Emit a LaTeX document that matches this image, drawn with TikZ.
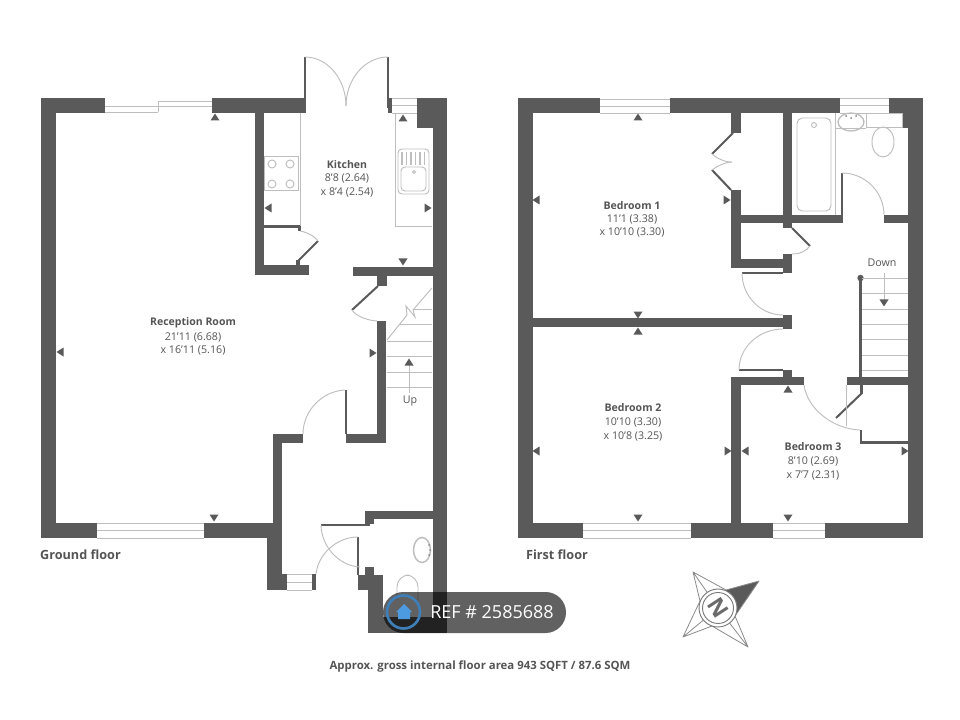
\documentclass[tikz,border=0pt]{standalone}
\usepackage{fontspec}
\setmainfont{Open Sans}
\usetikzlibrary{calc}
\definecolor{wallc}{HTML}{5A5A5A}
\definecolor{thinc}{HTML}{BEBEBE}
\definecolor{txtc}{HTML}{555555}
\definecolor{ringc}{HTML}{3F7FB8}
\definecolor{housec}{HTML}{4C9BE0}
\tikzset{
  thinl/.style={draw=thinc,line width=0.7pt},
  doorl/.style={draw=wallc,line width=1.5pt},
  rl/.style={font=\fontsize{8}{10}\selectfont,text=txtc,inner sep=0pt},
  rt/.style={font=\fontsize{7.9}{10}\selectfont\bfseries,text=txtc,inner sep=0pt},
  ft/.style={font=\fontsize{9.5}{11}\selectfont\bfseries,text=txtc,inner sep=0pt},
}
\newcommand{\wl}[4]{\fill[wallc] (#1,#2) rectangle (#3,#4);}
\newcommand{\qa}[6]{\draw[thinl] (#1,#2) .. controls ($(#1,#2)!.55!(#3,#4)$) and ($(#5,#6)!.55!(#3,#4)$) .. (#5,#6);}
\newcommand{\tu}[2]{\fill[wallc] (#1-4.5,#2+3.5) -- (#1+4.5,#2+3.5) -- (#1,#2-3.5) -- cycle;}
\newcommand{\td}[2]{\fill[wallc] (#1-4.5,#2-3.5) -- (#1+4.5,#2-3.5) -- (#1,#2+3.5) -- cycle;}
\newcommand{\tl}[2]{\fill[wallc] (#1+3.5,#2-4.5) -- (#1+3.5,#2+4.5) -- (#1-3.5,#2) -- cycle;}
\newcommand{\tr}[2]{\fill[wallc] (#1-3.5,#2-4.5) -- (#1-3.5,#2+4.5) -- (#1+3.5,#2) -- cycle;}
\newcommand{\winh}[4]{\draw[thinl] (#1,#2) -- (#3,#2) (#1,#4) -- (#3,#4) (#1,{(#2+#4)/2}) -- (#3,{(#2+#4)/2});}
\begin{document}
\begin{tikzpicture}[x=0.75pt,y=-0.75pt]
\useasboundingbox (0,0) rectangle (960,720);
\fill[white] (0,0) rectangle (960,720);
% ===== Ground floor walls =====
\wl{41}{98}{56}{538}
\wl{41}{98}{105}{113}
\wl{212}{98}{304}{113}
\wl{41}{523}{97}{538}
\wl{204}{523}{282}{538}
% sliding door
\draw[thinl] (105,106) -- (158,106) (105,112) -- (158,112) (158,112) -- (158,101) (158,101) -- (212,101) (158,106) -- (212,106);
\winh{97}{523}{204}{538}
\wl{255}{113}{264}{275}
\wl{255}{265}{309}{275}
\wl{264}{225}{300}{228}
\wl{298}{226}{301}{231}
\wl{296}{260}{300}{265}
\wl{388}{98}{392}{113}
\winh{392}{98}{417}{113}
\wl{417}{98}{447}{128}
\wl{433}{98}{447}{633}
\wl{353}{267}{433}{276}
\wl{377}{276}{387}{286}
\wl{377}{321}{386}{443}
\wl{346}{434}{386}{443}
\wl{345}{390}{347}{434}
\wl{273}{434}{303}{443}
\wl{273}{434}{282}{590}
\wl{267}{538}{282}{590}
\wl{267}{574}{287}{590}
\winh{287}{574}{312}{590}
\wl{312}{574}{316}{590}
\wl{358}{575}{383}{590}
\wl{365}{567}{374}{575}
\wl{368}{590}{383}{633}
\wl{368}{617}{447}{633}
\wl{365}{511}{433}{519}
\wl{365}{511}{374}{524}
\wl{321}{524}{370}{526}
\wl{357}{537}{359}{575}
% French doors
\wl{303.5}{57}{305.5}{113}
\wl{387}{57}{389}{108}
\qa{305}{57}{346}{57}{346}{106}
\qa{388}{57}{346}{57}{346}{106}
% door leaves and swings, ground floor
\draw[doorl] (298,261) -- (318,241);
\qa{318}{241}{313}{233}{300}{231}
\draw[doorl] (378,286) -- (352,310);
\qa{352}{310}{358}{320}{377}{321}
\qa{345}{390}{303}{392}{303}{434}
\qa{316}{574}{320}{537}{358}{537}
\qa{321}{525}{322}{565}{360}{567}
% Kitchen fittings
\draw[thinl] (300,113) -- (300,226);
\draw[thinl] (395,113) -- (395,226) -- (432,226);
\draw[thinl] (264,156) rectangle (298,190);
\draw[thinl] (272,164) circle[radius=4] (290,164) circle[radius=4] (272,184) circle[radius=4] (290,184) circle[radius=4];
\draw[thinl,rounded corners=3] (398,149) rectangle (429,194);
\draw[thinl,rounded corners=3] (401,167) rectangle (426,191);
\foreach \x in {402,406.5,411,415.5,420,424.5} \draw[thinl,line width=1.1pt] (\x,152) -- (\x,165);
\draw[thinl] (414,172) circle[radius=1.5];
% Stairs up
\draw[thinl] (414,309) -- (432,309) (400,324) -- (432,324) (387,341) -- (432,341) (387,356) -- (432,356) (387,372) -- (432,372) (387,387) -- (432,387);
\draw[thinl] (432,288) -- (413,310) -- (415,317) -- (406,306) -- (407,315) -- (387,340);
\draw[thinl] (409,365) -- (409,393);
\tu{409}{362}
\node[rl,font=\fontsize{8}{10}\selectfont] (up) at (410,401) {Up};
% WC fittings
\draw[thinl,line width=1.1pt] (422,550) ellipse[x radius=8.5,y radius=12.5];
\fill[thinc!70!black] (429,545) circle[radius=1] (430,550) circle[radius=1] (429,555) circle[radius=1];
\draw[thinl,rounded corners=9] (397,600) -- (397,575) -- (418,575) -- (418,600);
% Ground markers
\tu{215}{117} \td{214}{518} \tl{60}{352} \tr{373}{353}
\tu{403}{118} \tl{268}{208} \tr{428}{208} \td{403}{262}
% ===== First floor walls =====
\wl{518}{98}{533}{538}
\wl{518}{98}{600}{113}
\winh{600}{99}{670}{113}
\wl{670}{98}{840}{113}
\winh{840}{98}{889}{113}
\wl{889}{98}{923}{113}
\wl{902}{113}{923}{128}
\wl{908}{98}{923}{538}
\wl{518}{523}{583}{538}
\winh{583}{523}{691}{538}
\wl{691}{523}{773}{538}
\winh{773}{523}{825}{538}
\wl{825}{523}{923}{538}
\wl{731}{113}{741}{133}
\wl{731}{190}{741}{268}
\wl{731}{215}{842}{223}
\wl{783}{113}{792}{228}
\wl{731}{259}{783}{268}
\wl{783}{254}{792}{273}
\wl{841}{173}{843}{223}
\wl{884}{215}{908}{223}
\wl{742}{272}{783}{274}
\wl{533}{318}{783}{327}
\wl{783}{315}{792}{329}
\wl{739}{369}{783}{371}
\wl{731}{377}{804}{385}
\wl{783}{370}{792}{377}
\wl{731}{377}{741}{523}
\wl{847}{377}{908}{385}
\wl{859}{278}{862}{377}
\wl{860}{385}{863}{394}
\wl{860}{430}{862}{444}
\wl{860}{441}{908}{444}
\fill[wallc] (860.5,278) circle[radius=3.2];
% first floor doors
\draw[doorl] (733,133) -- (712,154);
\draw[doorl] (712,170) -- (731,190);
\qa{712}{154}{722}{163}{732}{162}
\qa{712}{170}{722}{162}{732}{162}
\draw[doorl] (792,228) -- (810,246);
\qa{810}{246}{804}{255}{792}{254}
\qa{842}{173}{884}{173}{884}{215}
\qa{742}{273}{742}{315}{783}{315}
\qa{783}{329}{739}{329}{739}{370}
\qa{804}{385}{810}{428}{860}{430}
\draw[doorl] (862,393) -- (836,418);
\draw[thinl,line width=1pt] (846.5,385) -- (846.5,426);
% Bathroom
\draw[thinl] (835,113) -- (835,215);
\draw[thinl,rounded corners=4] (797,118) rectangle (831,211);
\draw[thinl] (814,125) circle[radius=2.5];
\draw[thinl,line width=1pt] (851,122) ellipse[x radius=13,y radius=9];
\fill[thinc!70!black] (846,116) circle[radius=1] (851,118) circle[radius=1] (856,116) circle[radius=1];
\draw[thinl] (866,113) rectangle (902,127);
\draw[thinl] (835,128) -- (866,128);
\draw[thinl] (883,142) ellipse[x radius=11,y radius=15];
% Stairs down
\foreach \y in {278,293,309,324,339,355,370} \draw[thinl] (862,\y) -- (908,\y);
\draw[thinl] (884,273) -- (884,300);
\td{884}{303}
\node[rl,font=\fontsize{8}{10}\selectfont] (down) at (882,263) {Down};
% First markers
\tu{638}{117} \tl{536}{200} \tr{727}{200} \td{638}{315} \tu{638}{331}
\tl{536}{451} \tr{728}{451} \td{638}{518}
\tl{745}{451} \tr{905}{451} \td{788}{518} \tu{788}{389}
% ===== Labels =====
\node[rt] (rr1) at (193,323) {Reception Room};
\node[rl] (rr2) at (193,337) {21'11 (6.68)};
\node[rl] (rr3) at (193,350) {x 16'11 (5.16)};
\node[rt] (kt1) at (347,165) {Kitchen};
\node[rl] (kt2) at (347,178) {8'8 (2.64)};
\node[rl] (kt3) at (347,192) {x 8'4 (2.54)};
\node[rt] (b11) at (632,206) {Bedroom 1};
\node[rl] (b12) at (632,219) {11'1 (3.38)};
\node[rl] (b13) at (632,232) {x 10'10 (3.30)};
\node[rt] (b21) at (633,408) {Bedroom 2};
\node[rl] (b22) at (633,422) {10'10 (3.30)};
\node[rl] (b23) at (633,436) {x 10'8 (3.25)};
\node[rt] (b31) at (813,447) {Bedroom 3};
\node[rl] (b32) at (813,461) {8'10 (2.69)};
\node[rl] (b33) at (813,475) {x 7'7 (2.31)};
\node[ft] (gf) at (80.5,555) {Ground floor};
\node[ft] (ff) at (557,555) {First floor};
\node[rt,font=\fontsize{8.55}{10}\selectfont\bfseries] (area) at (480,667) {Approx. gross internal floor area 943 SQFT / 87.6 SQM};
% ===== Compass =====
\coordinate (cc) at (718,608);
\fill[wallc] (759,581) -- (726,590) -- (735,616) -- cycle;
\draw[wallc!70,line width=0.6pt,line join=round]
  (693,572) -- (700,601) -- (683,637) -- (712,626) -- (748,647) -- (735,616) -- (759,581) -- (726,590) -- cycle
  (693,572) -- (718,608) (683,637) -- (718,608) (748,647) -- (718,608);
\fill[white] (cc) circle[radius=19];
\draw[wallc!80,line width=0.7pt] (cc) circle[radius=19] (cc) circle[radius=15.5];
\node[inner sep=0pt,text=wallc!90,rotate=-57,font=\fontsize{17}{18}\selectfont\bfseries] (north) at (cc) {N};
% ===== Badge =====
\fill[black,opacity=0.62,rounded corners=15.3pt] (383,592) rectangle (566,633);
\draw[ringc,line width=2pt] (403.5,612) circle[radius=16.5];
\fill[housec] (404,604) -- (412,612) -- (410,612) -- (410,619) -- (398,619) -- (398,612) -- (396,612) -- cycle;
\node[inner sep=0pt,text=white,font=\fontsize{13.5}{15}\selectfont] (ref) at (492,612) {REF \# 2585688};
\end{tikzpicture}
\end{document}
